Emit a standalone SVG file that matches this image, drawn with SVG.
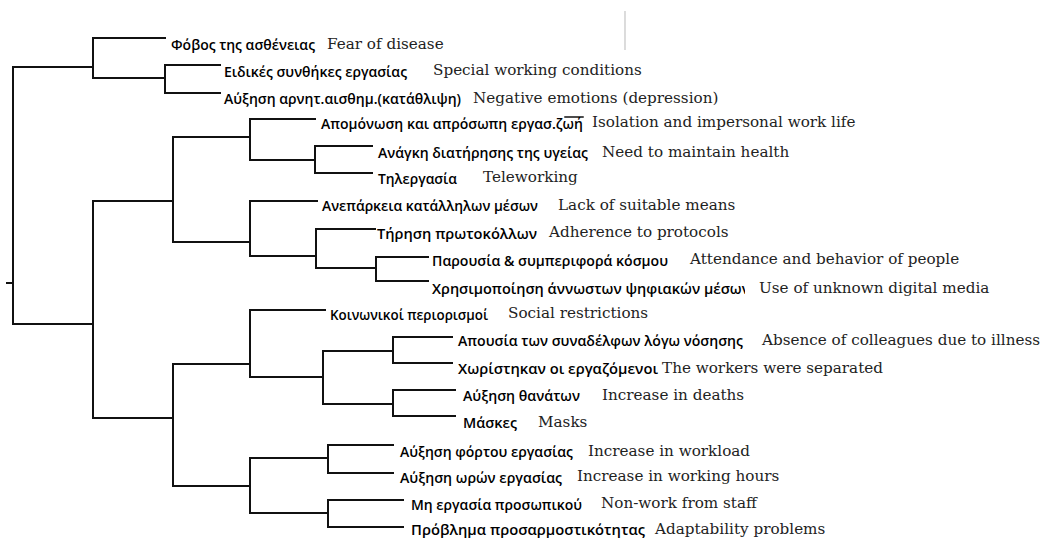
<svg xmlns="http://www.w3.org/2000/svg" width="1047" height="539" viewBox="0 0 1047 539">
<style>
.bg{fill:#fff}
.ln{fill:none;stroke:#111;stroke-width:2;stroke-linecap:square}
.gr{font-family:"Open Sans","Noto Sans","DejaVu Sans",sans-serif;font-weight:600;font-size:15.2px;fill:#000}
.en{font-family:"DejaVu Serif","Liberation Serif",serif;font-size:15.2px;fill:#222}
</style>
<rect class="bg" x="0" y="0" width="1047" height="539"/>
<line x1="625" y1="11" x2="625" y2="50" stroke="#c4c4c4" stroke-width="1.2"/>
<g id="connectors" class="ln">
<path d="M7,283H13"/>
<path d="M93,67H13V324H93"/>
<path d="M165,38H93V78H165"/>
<path d="M220,65H165V93H220"/>
<path d="M173,201H93V418H173"/>
<path d="M250,137H173V242H250"/>
<path d="M315,119H250V160H315"/>
<path d="M372,146H315V173H372"/>
<path d="M317,201H250V256H316"/>
<path d="M375,229H316V268H376"/>
<path d="M428,257H376V281H428"/>
<path d="M250,364H173V486H250"/>
<path d="M325,310H250V377H323"/>
<path d="M393,351H323V404H393"/>
<path d="M452,337H393V363H452"/>
<path d="M455,390H393V416H455"/>
<path d="M328,458H250V513H328"/>
<path d="M393,445H328V473H393"/>
<path d="M403,500H328V527H403"/>
<path d="M565,117H583" stroke-width="1.5"/>
</g>
<g id="n1"><text class="gr" x="171" y="50" textLength="144" lengthAdjust="spacingAndGlyphs">Φόβος της ασθένειας</text><text class="en" x="327" y="49">Fear of disease</text></g>
<g id="n2"><text class="gr" x="224" y="77" textLength="183" lengthAdjust="spacingAndGlyphs">Ειδικές συνθήκες εργασίας</text><text class="en" x="433" y="75">Special working conditions</text></g>
<g id="n3"><text class="gr" x="224" y="104" textLength="237" lengthAdjust="spacingAndGlyphs">Αύξηση αρνητ.αισθημ.(κατάθλιψη)</text><text class="en" x="473" y="103">Negative emotions (depression)</text></g>
<g id="n4"><text class="gr" x="321" y="129" textLength="262" lengthAdjust="spacingAndGlyphs">Απομόνωση και απρόσωπη εργασ.ζωή</text><text class="en" x="592" y="127">Isolation and impersonal work life</text></g>
<g id="n5"><text class="gr" x="378" y="158" textLength="210" lengthAdjust="spacingAndGlyphs">Ανάγκη διατήρησης της υγείας</text><text class="en" x="602" y="157">Need to maintain health</text></g>
<g id="n6"><text class="gr" x="378" y="184" textLength="79" lengthAdjust="spacingAndGlyphs">Τηλεργασία</text><text class="en" x="483" y="182">Teleworking</text></g>
<g id="n7"><text class="gr" x="322" y="211" textLength="216" lengthAdjust="spacingAndGlyphs">Ανεπάρκεια κατάλληλων μέσων</text><text class="en" x="558" y="210">Lack of suitable means</text></g>
<g id="n8"><text class="gr" x="377" y="239" textLength="160" lengthAdjust="spacingAndGlyphs">Τήρηση πρωτοκόλλων</text><text class="en" x="549" y="237">Adherence to protocols</text></g>
<g id="n9"><text class="gr" x="432" y="266" textLength="236" lengthAdjust="spacingAndGlyphs">Παρουσία &amp; συμπεριφορά κόσμου</text><text class="en" x="690" y="264">Attendance and behavior of people</text></g>
<g id="n10"><text class="gr" x="432" y="294" textLength="318" lengthAdjust="spacingAndGlyphs">Χρησιμοποίηση άννωστων ψηφιακών μέσων</text><rect x="745" y="276" width="14" height="22" fill="#fff"/><text class="en" x="759" y="293">Use of unknown digital media</text></g>
<g id="n11"><text class="gr" x="330" y="320" textLength="158" lengthAdjust="spacingAndGlyphs">Κοινωνικοί περιορισμοί</text><text class="en" x="508" y="318">Social restrictions</text></g>
<g id="n12"><text class="gr" x="458" y="346" textLength="285" lengthAdjust="spacingAndGlyphs">Απουσία των συναδέλφων λόγω νόσησης</text><text class="en" x="762" y="345">Absence of colleagues due to illness</text></g>
<g id="n13"><text class="gr" x="458" y="374" textLength="200" lengthAdjust="spacingAndGlyphs">Χωρίστηκαν οι εργαζόμενοι</text><text class="en" x="662" y="373">The workers were separated</text></g>
<g id="n14"><text class="gr" x="463" y="401" textLength="117" lengthAdjust="spacingAndGlyphs">Αύξηση θανάτων</text><text class="en" x="602" y="400">Increase in deaths</text></g>
<g id="n15"><text class="gr" x="463" y="428" textLength="54" lengthAdjust="spacingAndGlyphs">Μάσκες</text><text class="en" x="538" y="427">Masks</text></g>
<g id="n16"><text class="gr" x="400" y="457" textLength="173" lengthAdjust="spacingAndGlyphs">Αύξηση φόρτου εργασίας</text><text class="en" x="588" y="456">Increase in workload</text></g>
<g id="n17"><text class="gr" x="400" y="483" textLength="162" lengthAdjust="spacingAndGlyphs">Αύξηση ωρών εργασίας</text><text class="en" x="577" y="481">Increase in working hours</text></g>
<g id="n18"><text class="gr" x="411" y="510" textLength="171" lengthAdjust="spacingAndGlyphs">Μη εργασία προσωπικού</text><text class="en" x="601" y="508">Non-work from staff</text></g>
<g id="n19"><text class="gr" x="411" y="535" textLength="234" lengthAdjust="spacingAndGlyphs">Πρόβλημα προσαρμοστικότητας</text><text class="en" x="655" y="534">Adaptability problems</text></g>
</svg>
